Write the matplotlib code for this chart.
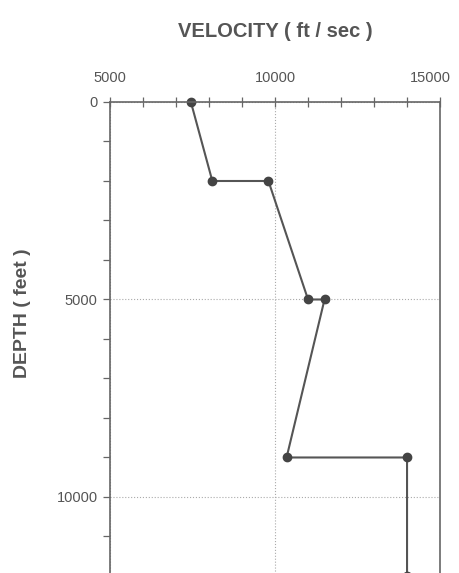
import matplotlib.pyplot as plt
from matplotlib.transforms import ScaledTranslation

# velocity profile
velocity = [7450, 8100, 9800, 11000, 11500, 10350, 14000, 14000]
depth = [0, 2000, 2000, 5000, 5000, 9000, 9000, 12000]

x_ticks = [5000, 10000, 15000]
y_ticks = [0, 5000, 10000]

plt.rcParams['font.family'] = ['Liberation Sans', 'DejaVu Sans']

fig = plt.figure(figsize=(4.59, 5.73), dpi=100)
# the axes runs past the bottom edge, as in the scan
ax = fig.add_axes([0.2397, -0.212, 0.719, 1.034])

ax.plot(velocity, depth, color='#555555', lw=1.5, marker='o', ms=6,
        mfc='#444444', mec='#444444', clip_on=False)

ax.set_xlim(5000, 15000)
ax.set_ylim(15000, 0)

ax.xaxis.tick_top()
ax.xaxis.set_label_position('top')
ax.set_xticks(x_ticks)
ax.set_xticks(range(5000, 15001, 1000), minor=True)
ax.set_yticks(y_ticks)
ax.set_yticks(range(0, 15001, 1000), minor=True)

ax.tick_params(axis='x', which='both', direction='inout', length=7, width=0.9,
               color='#666666', labelsize=10.5, labelcolor='#555555', pad=9)
ax.tick_params(axis='y', which='both', direction='out', length=5, width=0.9,
               color='#666666', labelsize=10.5, labelcolor='#555555', pad=4)

# last top label sits a little left of its tick in the scan
fig.canvas.draw()
last = ax.get_xticklabels(which='major')[-1]
last.set_transform(last.get_transform() + ScaledTranslation(-7 / 72, 0, fig.dpi_scale_trans))

ax.grid(True, which='major', ls=':', lw=0.8, color='#aaaaaa')

for s in ax.spines.values():
    s.set_color('#666666')
    s.set_linewidth(1.2)

ax.set_xlabel('VELOCITY ( ft / sec )', fontsize=14.5, fontweight='bold',
              color='#555555', labelpad=24)
fig.text(0.048, 1 - 313 / 573, 'DEPTH ( feet )', rotation=90, fontsize=14,
         fontweight='bold', color='#555555', ha='center', va='center')

fig.savefig('out.png', dpi=100)
